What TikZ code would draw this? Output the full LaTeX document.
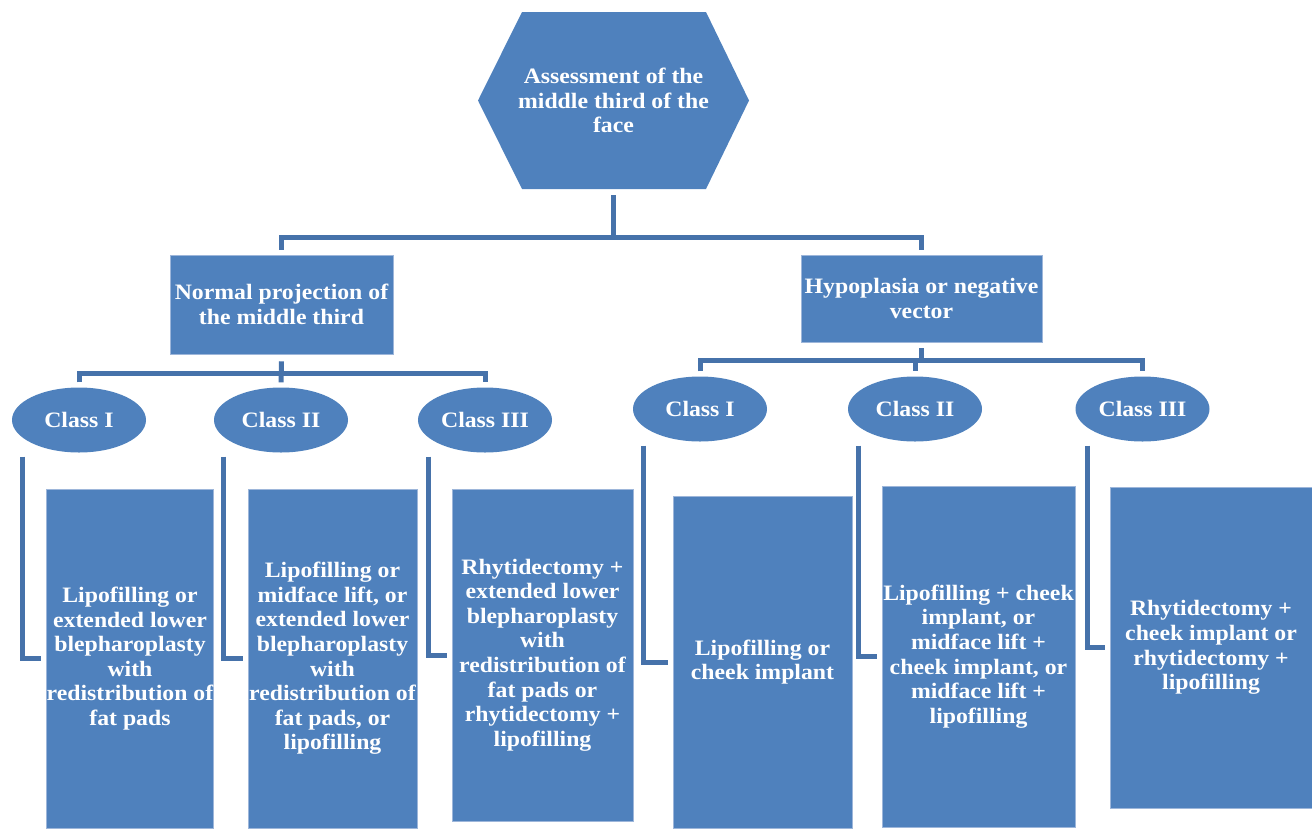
\documentclass[tikz,border=0pt]{standalone}
\usepackage{fontspec}
\setmainfont{Liberation Serif}[FakeStretch=1.08]
\usetikzlibrary{shapes.geometric}
\definecolor{boxblue}{HTML}{4F81BD}
\definecolor{linkblue}{HTML}{4672AA}
\definecolor{edgeblue}{HTML}{9DB6DA}

\begin{document}
\begin{tikzpicture}[x=1pt,y=-1pt,
  every node/.style={text=white, font=\fontsize{22}{24.6}\selectfont\bfseries,
    align=center, inner sep=0pt},
  rbox/.style={rectangle, fill=boxblue, draw=edgeblue, line width=0.6pt},
  cls/.style={ellipse, fill=boxblue, minimum width=134pt, minimum height=65pt},
  conn/.style={draw=linkblue, line width=5pt}]

\useasboundingbox (0,0) rectangle (1312,828);

% top hexagon
\fill[boxblue] (522,12) -- (706,12) -- (749,100.5) -- (706,189) -- (522,189) -- (478,100.5) -- cycle;
\node[minimum width=271pt, minimum height=177pt] (hex) at (613.5,100.5)
  {Assessment of the\\middle third of the\\face};

% second level
\node[rbox, minimum width=223pt, minimum height=99pt] (norm) at (281.5,304.5)
  {Normal projection of\\the middle third};
\node[rbox, minimum width=241pt, minimum height=87pt] (hypo) at (921.5,298.5)
  {Hypoplasia or negative\\vector};

% classes
\node[cls] (cL1) at (79,420) {Class I};
\node[cls] (cL2) at (281,420) {Class II};
\node[cls] (cL3) at (485,420) {Class III};
\node[cls] (cR1) at (700,409) {Class I};
\node[cls] (cR2) at (915,409) {Class II};
\node[cls] (cR3) at (1142.5,409) {Class III};

% treatments
\node[rbox, minimum width=166pt, minimum height=339pt] (bL1) at (130,658.5)
  {Lipofilling or\\extended lower\\blepharoplasty\\with\\redistribution of\\fat pads};
\node[rbox, minimum width=169pt, minimum height=339pt] (bL2) at (332.5,658.5)
  {Lipofilling or\\midface lift, or\\extended lower\\blepharoplasty\\with\\redistribution of\\fat pads, or\\lipofilling};
\node[rbox, minimum width=181pt, minimum height=332pt] (bL3) at (542.5,655)
  {Rhytidectomy +\\extended lower\\blepharoplasty\\with\\redistribution of\\fat pads or\\rhytidectomy +\\lipofilling};
\node[rbox, minimum width=179pt, minimum height=332pt] (bR1) at (762.5,662)
  {Lipofilling or\\cheek implant};
\node[rbox, minimum width=193pt, minimum height=341pt] (bR2) at (978.5,656.5)
  {Lipofilling + cheek\\implant, or\\midface lift +\\cheek implant, or\\midface lift +\\lipofilling};
\node[rbox, minimum width=202pt, minimum height=321pt] (bR3) at (1211,647.5)
  {Rhytidectomy +\\cheek implant or\\rhytidectomy +\\lipofilling};

% hexagon to second level
\draw[conn] ([yshift=-6pt]hex.south) -- (hex.south |- 0,237);
\draw[conn] ([yshift=5pt]norm.north) -- (norm.north |- 0,237)
  -- (hypo.north |- 0,237) -- ([yshift=5pt]hypo.north);

% left branch to classes
\draw[conn] ([yshift=-7pt]norm.south) -- ([yshift=5pt]cL2.north);
\draw[conn] ([yshift=5pt]cL1.north) -- (cL1.north |- 0,373)
  -- (cL3.north |- 0,373) -- ([yshift=5pt]cL3.north);

% right branch to classes
\draw[conn] ([yshift=-6pt]hypo.south) -- (hypo.south |- 0,360);
\draw[conn] ([yshift=5pt]cR1.north) -- (cR1.north |- 0,360)
  -- (cR3.north |- 0,360) -- ([yshift=5pt]cR3.north);
\draw[conn] (cR2.north |- 0,360) -- ([yshift=5pt]cR2.north);

% classes to treatments
\draw[conn] (cL1.west |- cL1.south) ++(11,4) |- ([xshift=-5pt]bL1.west);
\draw[conn] (cL2.west |- cL2.south) ++(10,4) |- ([xshift=-5pt]bL2.west);
\draw[conn] (cL3.west |- cL3.south) ++(11,4) |- ([xshift=-5pt]bL3.west);
\draw[conn] (cR1.west |- cR1.south) ++(11,4) |- ([xshift=-5pt]bR1.west);
\draw[conn] (cR2.west |- cR2.south) ++(11,4) |- ([xshift=-5pt]bR2.west);
\draw[conn] (cR3.west |- cR3.south) ++(12,4) |- ([xshift=-5pt]bR3.west);

\end{tikzpicture}
\end{document}
